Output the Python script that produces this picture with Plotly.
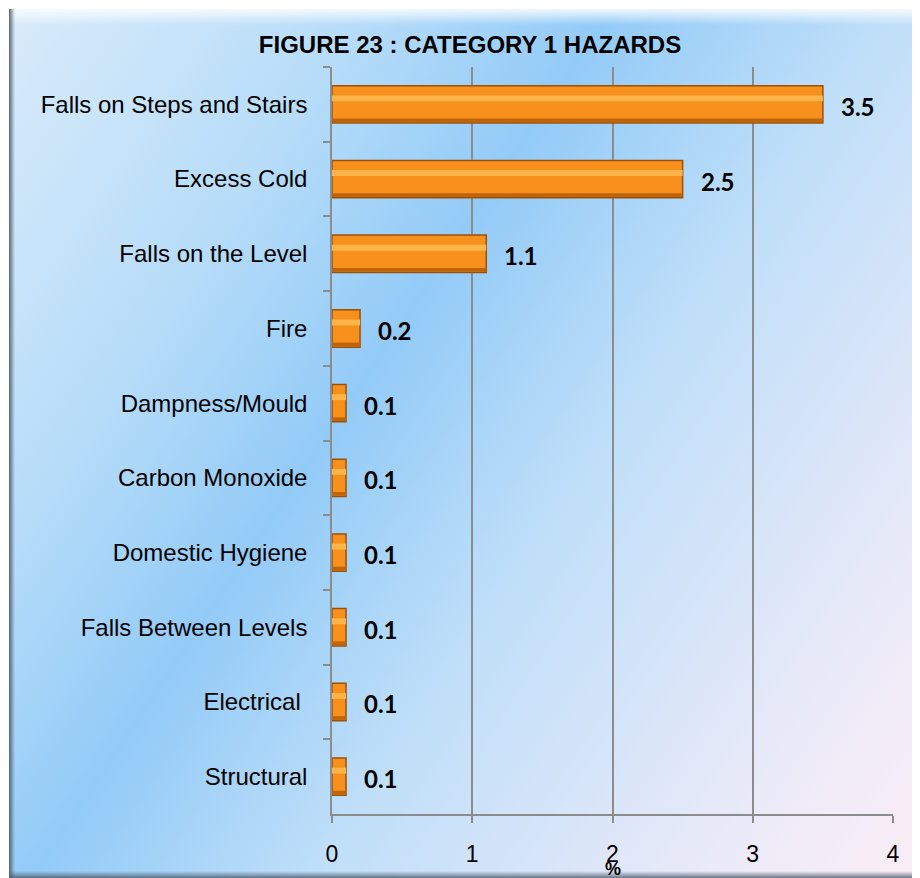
import base64
import plotly.graph_objects as go

categories = ["Falls on Steps and Stairs", "Excess Cold", "Falls on the Level", "Fire",
              "Dampness/Mould", "Carbon Monoxide", "Domestic Hygiene",
              "Falls Between Levels", "Electrical ", "Structural"]
values = [3.5, 2.5, 1.1, 0.2, 0.1, 0.1, 0.1, 0.1, 0.1, 0.1]
value_labels = ["3.5", "2.5", "1.1", "0.2", "0.1", "0.1", "0.1", "0.1", "0.1", "0.1"]
x_ticks = [0, 1, 2, 3, 4]
title_text = "FIGURE 23 : CATEGORY 1 HAZARDS"
x_title = "%"

# page has an 8px body margin, so the figure is drawn 8px smaller
W, H = 912, 870
L, R, T, B = 324, 27, 59, 64
pw, ph = W - L - R, H - T - B

svg = f'''<svg xmlns="http://www.w3.org/2000/svg" width="{W}" height="{H}" viewBox="0 0 {W} {H}" preserveAspectRatio="none">
<defs>
<linearGradient id="g" gradientUnits="userSpaceOnUse" x1="-8" y1="-8" x2="1034" y2="687">
<stop offset="0" stop-color="#dbecfa"/>
<stop offset="0.25" stop-color="#b6dcf9"/>
<stop offset="0.41" stop-color="#93cbf7"/>
<stop offset="0.6" stop-color="#c0dff9"/>
<stop offset="0.88" stop-color="#eeebf8"/>
<stop offset="1" stop-color="#fbeef5"/>
</linearGradient>
<linearGradient id="top" x1="0" y1="0" x2="0" y2="1"><stop offset="0" stop-color="#ffffff" stop-opacity="0.85"/><stop offset="1" stop-color="#ffffff" stop-opacity="0"/></linearGradient>
<linearGradient id="left" x1="0" y1="0" x2="1" y2="0"><stop offset="0" stop-color="#4a5a6a" stop-opacity="0.9"/><stop offset="1" stop-color="#4a5a6a" stop-opacity="0"/></linearGradient>
<linearGradient id="bot" x1="0" y1="1" x2="0" y2="0"><stop offset="0" stop-color="#4a5a6a" stop-opacity="0.8"/><stop offset="1" stop-color="#4a5a6a" stop-opacity="0"/></linearGradient>
</defs>
<rect width="{W}" height="{H}" fill="#ffffff"/>
<rect x="1" y="1" width="{W-1}" height="{H-1}" fill="url(#g)"/>
<rect x="1" y="1" width="{W-1}" height="16" fill="url(#top)"/>
<rect x="1" y="1" width="6" height="{H-1}" fill="url(#left)"/>
<rect x="1" y="{H-7}" width="{W-1}" height="7" fill="url(#bot)"/>
</svg>'''
bg_src = "data:image/svg+xml;base64," + base64.b64encode(svg.encode()).decode()

fig = go.Figure()
fig.add_trace(go.Bar(
    x=values, y=categories, orientation="h", width=0.5,
    marker=dict(color="#f7901c", line=dict(color="#9a5209", width=1.5)),
    hoverinfo="skip", showlegend=False,
))
# bevel highlight and shadow stripes
fig.add_trace(go.Bar(
    x=values, y=categories, orientation="h", width=0.08, offset=-0.12,
    marker=dict(color="#fdb54a", line=dict(width=0)),
    hoverinfo="skip", showlegend=False,
))
fig.add_trace(go.Bar(
    x=values, y=categories, orientation="h", width=0.05, offset=0.19,
    marker=dict(color="#bf640b", line=dict(width=0)),
    hoverinfo="skip", showlegend=False,
))

for c, v, t in zip(categories, values, value_labels):
    fig.add_annotation(x=v, y=c, text=f"<b>{t}</b>", showarrow=False,
                       xanchor="left", xshift=16, yshift=-2,
                       font=dict(family="Lato", size=24, color="#000000"))

fig.add_annotation(x=0.5, y=-(861 - (H - B)) / ph, xref="paper", yref="paper",
                   yanchor="middle", text=f"<b>{x_title}</b>",
                   showarrow=False, font=dict(family="Liberation Sans", size=18, color="#000000"))

fig.update_layout(
    width=W, height=H,
    margin=dict(l=L, r=R, t=T, b=B, pad=0),
    paper_bgcolor="#ffffff", plot_bgcolor="rgba(0,0,0,0)",
    barmode="overlay",
    title=dict(text=f"<b>{title_text}</b>", x=462 / W, xanchor="center",
               y=1 - 37 / H, yanchor="middle",
               font=dict(family="Liberation Sans", size=24, color="#000000")),
    images=[dict(source=bg_src, xref="paper", yref="paper",
                 x=-L / pw, y=1 + T / ph, sizex=W / pw, sizey=H / ph,
                 xanchor="left", yanchor="top", sizing="stretch", layer="below")],
    xaxis=dict(range=[0, 4], tickvals=x_ticks, showgrid=True, gridcolor="#8c8c8c", gridwidth=1.5,
               zeroline=False, showline=True, linecolor="#8c8c8c", linewidth=1.5,
               ticks="outside", ticklen=7, tickcolor="#8c8c8c", tickwidth=1.5,
               ticklabelstandoff=12,
               tickfont=dict(family="Liberation Sans", size=23, color="#000000")),
    yaxis=dict(autorange="reversed", showgrid=False, showline=True, linecolor="#8c8c8c", linewidth=1.5,
               ticks="outside", ticklen=7, tickcolor="#8c8c8c", tickwidth=1.5, tickson="boundaries",
               ticklabelstandoff=18,
               tickfont=dict(family="Liberation Sans", size=24, color="#000000")),
)

fig.write_html("out.html")
